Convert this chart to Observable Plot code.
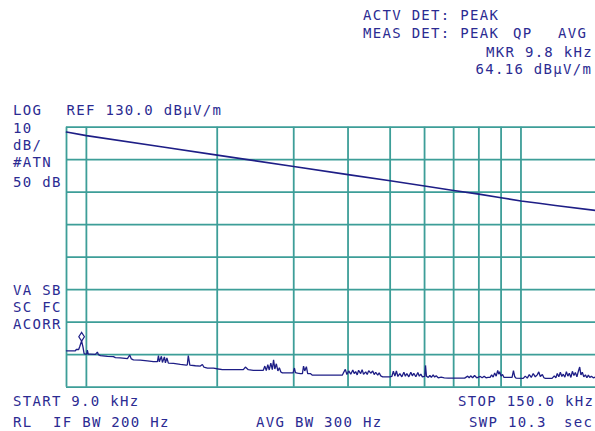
<!DOCTYPE html>
<html>
<head>
<meta charset="utf-8">
<script src="https://cdn.jsdelivr.net/npm/d3@7"></script>
<script src="https://cdn.jsdelivr.net/npm/@observablehq/plot@0.6"></script>
<style>
  html, body { margin: 0; padding: 0; background: #fff; overflow: hidden; }
  #chart svg { display: block; }
</style>
</head>
<body>
<div id="chart"></div>
<script>
// ---- data (frequency in kHz, level in dBµV/m) ----
const xGridKHz = [9, 10, 20, 30, 40, 50, 60, 70, 80, 90, 100];
const yGridDb = [50, 60, 70, 80, 90, 100, 110, 120, 130];

const upperFreq = [9, 10, 15, 20, 30, 40, 50, 60, 70, 80, 90, 100, 110, 120, 150];
const upperDb   = [128.5, 127.4, 123.9, 121.4, 117.9, 115.4, 113.5, 111.9, 110.5, 109.4, 108.3, 107.3, 106.6, 105.9, 104.3];

const lowerTrace = [
  [9.0, 61.2], [9.43, 61.2], [9.48, 61.6], [9.6, 61.6], [9.66, 62.6], [9.75, 64.2], [9.82, 62.4], [9.88, 60.3],
  [9.95, 60.2], [10.02, 60.2], [10.05, 61.4], [10.1, 60.2], [10.21, 60.2], [10.49, 60.1], [10.6, 60.8], [10.66, 60.0],
  [10.77, 59.7], [11.18, 59.5], [11.54, 59.4], [11.66, 59.1], [11.97, 59.0], [12.43, 58.8], [12.58, 59.9], [12.69, 58.7],
  [12.83, 58.4], [13.31, 58.3], [13.81, 58.1], [14.26, 57.9], [14.57, 57.9], [14.65, 59.7], [14.72, 57.8], [14.88, 59.5],
  [14.96, 57.6], [15.12, 59.3], [15.2, 57.5], [15.32, 59.0], [15.44, 57.4], [15.86, 57.3], [16.45, 57.0], [16.98, 56.8],
  [17.07, 56.9], [17.16, 59.7], [17.3, 56.8], [17.82, 56.6], [18.29, 56.5], [18.49, 57.0], [18.63, 56.2], [18.99, 55.9],
  [19.6, 55.9], [20.13, 55.6], [20.55, 55.4], [22.61, 55.4], [22.97, 55.4], [23.22, 56.2], [23.58, 55.4], [24.22, 55.2],
  [25.13, 55.2], [25.53, 55.2], [25.74, 56.5], [25.94, 55.1], [26.15, 56.9], [26.35, 55.3], [26.57, 57.4], [26.78, 55.4],
  [26.96, 58.4], [27.14, 55.6], [27.36, 57.2], [27.58, 55.0], [27.8, 56.0], [28.02, 54.7], [28.25, 54.4], [29.01, 54.4],
  [29.9, 54.4], [30.11, 55.9], [30.27, 54.5], [30.6, 54.3], [31.07, 54.2], [31.41, 54.2], [31.6, 56.5], [31.8, 55.0],
  [32.08, 56.3], [32.3, 54.2], [32.76, 54.2], [33.12, 53.7], [36.41, 53.7], [38.8, 53.7], [39.1, 54.6], [39.43, 55.5],
  [39.76, 53.9], [40.15, 55.0], [40.58, 54.0], [41.02, 55.3], [41.33, 54.2], [41.65, 54.8], [41.99, 53.8], [42.3, 55.2],
  [42.77, 54.2], [43.1, 55.4], [43.43, 54.0], [43.93, 54.7], [44.28, 53.9], [44.63, 55.1], [45.11, 54.3], [45.59, 55.0],
  [45.95, 53.9], [46.32, 54.6], [46.81, 53.7], [47.18, 54.4], [47.56, 53.5], [48.07, 53.2], [49.92, 53.2], [50.45, 53.3],
  [50.86, 54.9], [51.27, 53.4], [51.68, 55.0], [52.09, 53.3], [52.64, 54.2], [53.2, 53.2], [53.77, 54.6], [54.2, 53.4],
  [54.63, 54.2], [55.21, 53.2], [55.79, 54.6], [56.24, 53.5], [56.68, 54.3], [57.29, 53.2], [57.9, 54.5], [58.36, 53.4],
  [58.82, 54.0], [59.3, 53.2], [60.06, 53.3], [60.3, 56.7], [60.6, 53.4], [61.2, 53.0], [61.7, 53.6], [62.2, 53.0],
  [62.8, 53.8], [63.3, 53.1], [63.8, 53.5], [64.5, 52.9], [65.5, 53.1], [66.6, 52.9], [68.0, 52.8], [70.5, 52.8],
  [74.2, 52.8], [75.4, 53.4], [76.0, 52.9], [76.6, 53.5], [77.4, 52.9], [78.2, 53.6], [79.1, 52.9], [80.6, 53.3],
  [81.4, 52.9], [82.3, 53.4], [83.1, 52.9], [84.0, 53.0], [84.9, 53.0], [85.6, 53.8], [86.3, 53.1], [87.0, 54.4],
  [87.7, 53.4], [88.4, 55.2], [88.9, 54.0], [89.3, 54.8], [90.0, 53.4], [90.7, 53.9], [91.4, 53.0], [92.9, 53.0],
  [95.4, 53.0], [96.1, 55.1], [96.7, 53.3], [97.4, 52.8], [101.2, 52.7], [102.3, 53.4], [103.4, 52.8], [104.5, 53.9],
  [105.6, 53.0], [106.7, 54.2], [107.9, 53.2], [109.0, 53.8], [109.9, 54.7], [110.8, 53.3], [112.0, 53.9], [112.9, 52.9],
  [113.8, 52.7], [117.9, 52.7], [119.3, 53.5], [120.3, 52.9], [121.2, 54.2], [122.2, 53.2], [123.2, 54.6], [124.2, 53.3],
  [125.1, 54.0], [126.2, 53.1], [127.2, 54.8], [128.2, 53.4], [129.2, 54.3], [130.3, 53.0], [131.3, 54.9], [132.4, 53.6],
  [133.4, 54.5], [134.5, 53.2], [135.6, 55.0], [136.5, 56.2], [137.4, 53.8], [138.4, 54.6], [139.5, 53.2], [140.7, 53.8],
  [141.8, 52.9], [142.9, 53.7], [144.0, 53.0], [145.2, 53.4], [146.7, 52.9], [148.3, 53.1], [150, 53.0]
];

const markerFreq = [9.75];
const markerDb = [64.16];

// ---- text ----
const labelTexts = [
  "ACTV DET: PEAK", "MEAS DET: PEAK", "QP", "AVG", "MKR 9.8 kHz", "64.16 dBµV/m",
  "LOG", "REF 130.0 dBµV/m", "10", "dB/", "#ATN", "50 dB",
  "VA SB", "SC FC", "ACORR",
  "START 9.0 kHz", "STOP 150.0 kHz", "RL", "IF BW 200 Hz", "AVG BW 300 Hz", "SWP 10.3", "sec"
];
// layout (x, baseline y) in pixels for each label
const labelPos = [
  [363, 20], [363, 37.5], [513, 37.5], [558, 37.5], [486, 56.5], [475.5, 74],
  [13, 115], [66.5, 115], [13, 132.5], [13, 150], [13, 166.5], [13, 186.5],
  [13, 295], [13, 311.5], [13, 329],
  [13, 406], [458, 406], [13, 427], [53, 427], [256, 427], [469, 427], [564, 427]
];

// ---- chart ----
const gridColor = "#3d9e98";
const traceColor = "#1e1e86";
const textColor = "#2b2b92";

const upper = upperFreq.map((f, i) => ({f, db: upperDb[i]}));
const lower = lowerTrace.map(([f, db]) => ({f, db}));
const marker = markerFreq.map((f, i) => ({f, db: markerDb[i]}));

const markerSymbol = {
  draw(ctx, size) {
    const r = Math.sqrt(size / Math.PI);
    ctx.moveTo(0, 0);
    ctx.lineTo(r * 0.7, -r * 1.1);
    ctx.lineTo(0, -r * 2.2);
    ctx.lineTo(-r * 0.7, -r * 1.1);
    ctx.closePath();
  }
};

const svg = Plot.plot({
  width: 595,
  height: 431,
  marginLeft: 66,
  marginRight: -2,
  marginTop: 126.7,
  marginBottom: 44.3,
  style: {background: "#fff", overflow: "hidden"},
  x: {type: "log", domain: [9, 150], axis: null},
  y: {domain: [50, 130], axis: null},
  marks: [
    Plot.ruleY(yGridDb, {stroke: gridColor, strokeWidth: 1.8}),
    Plot.ruleX(xGridKHz, {stroke: gridColor, strokeWidth: 1.8}),
    Plot.line(upper, {x: "f", y: "db", stroke: traceColor, strokeWidth: 1.6}),
    Plot.line(lower, {x: "f", y: "db", stroke: traceColor, strokeWidth: 1.3, strokeLinejoin: "miter"}),
    Plot.dot(marker, {x: "f", y: "db", symbol: markerSymbol, r: 4, stroke: traceColor, strokeWidth: 1.2, fill: "none"})
  ]
});

const s = d3.select(svg);
labelTexts.forEach((t, i) => {
  s.append("text")
    .attr("x", labelPos[i][0])
    .attr("y", labelPos[i][1])
    .attr("text-anchor", "start")
    .attr("fill", textColor)
    .attr("font-family", "'DejaVu Sans Mono', monospace")
    .attr("font-size", 14)
    .attr("letter-spacing", "1.3px")
    .text(t);
});

document.getElementById("chart").appendChild(svg);
</script>
</body>
</html>
